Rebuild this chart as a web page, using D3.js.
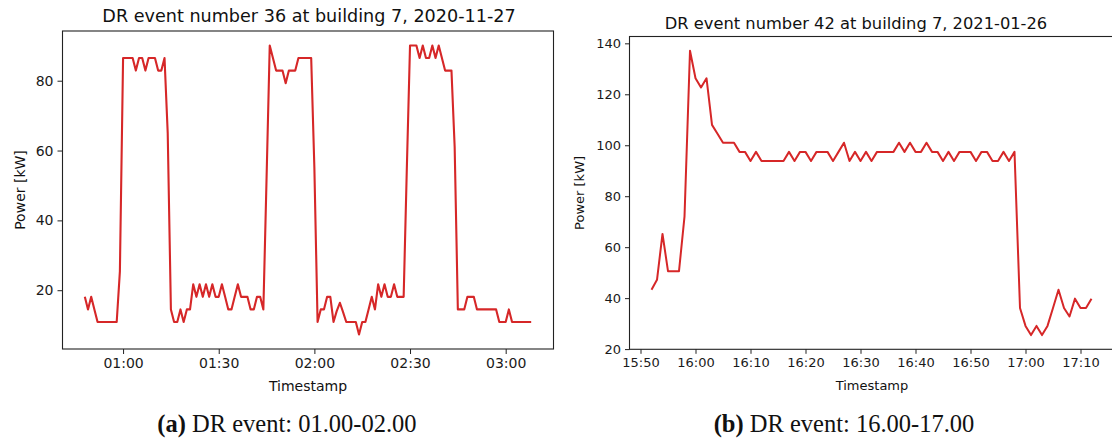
<!DOCTYPE html>
<html><head><meta charset="utf-8">
<script src="https://cdn.jsdelivr.net/npm/d3@7"></script>
<style>body{margin:0;background:#fff}svg{display:block}</style>
</head><body>
<svg id="c" width="1112" height="446"></svg>
<script>
// ---------- DATA ----------
const leftTitle = "DR event number 36 at building 7, 2020-11-27";
const rightTitle = "DR event number 42 at building 7, 2021-01-26";
const leftDate = "2020-11-27";
const rightDate = "2021-01-26";
const leftStartTime = "00:48";   // 1-minute samples
const rightStartTime = "15:52";  // 1-minute samples
const leftPower = [
  18.1,14.5,18.1,14.5,10.9,10.9,10.9,10.9,10.9,10.9,10.9,25.4,
  86.5,86.5,86.5,86.5,82.9,86.5,86.5,82.9,86.5,86.5,86.5,82.9,82.9,86.5,65.0,
  14.5,10.9,10.9,14.5,10.9,14.5,14.5,21.7,18.1,21.7,18.1,21.7,18.1,21.7,18.1,18.1,
  21.7,18.1,14.5,14.5,18.1,21.7,18.1,18.1,18.1,14.5,14.5,18.1,18.1,14.5,52.0,
  90.1,86.5,82.9,82.9,82.9,79.3,82.9,82.9,82.9,86.5,86.5,86.5,86.5,86.5,55.0,
  10.9,14.5,14.5,18.1,18.1,10.9,14.0,16.4,13.7,10.9,10.9,10.9,10.9,7.3,10.9,10.9,
  14.5,18.1,14.5,21.7,18.1,21.7,18.1,18.1,21.7,18.1,18.1,18.1,55.0,
  90.1,90.1,90.1,86.5,90.1,86.5,86.5,90.1,86.5,90.1,86.5,82.9,82.9,82.9,61.0,
  14.5,14.5,14.5,18.1,18.1,18.1,14.5,14.5,14.5,14.5,14.5,14.5,14.5,
  10.9,10.9,10.9,14.5,10.9,10.9,10.9,10.9,10.9,10.9,10.9
];
const rightPower = [
  43.3,47.2,65.2,50.6,50.6,50.6,72.0,137.1,126.3,122.7,126.3,108.0,104.5,
  101.0,101.0,101.0,97.4,97.4,93.8,97.4,93.8,93.8,93.8,93.8,93.8,97.4,93.8,
  97.4,97.4,93.8,97.4,97.4,97.4,93.8,97.4,101.0,93.8,97.4,93.8,97.4,93.8,
  97.4,97.4,97.4,97.4,101.0,97.4,101.0,97.4,97.4,101.0,97.4,97.4,93.8,97.4,
  93.8,97.4,97.4,97.4,93.8,97.4,97.4,93.8,93.8,97.4,93.8,97.4,
  36.1,29.1,25.5,29.1,25.5,29.1,36.1,43.3,36.1,32.8,39.8,36.1,36.1,39.8
];
const leftYTicks = [20, 40, 60, 80];
const rightYTicks = [20, 40, 60, 80, 100, 120, 140];
const leftXTicks = ["01:00", "01:30", "02:00", "02:30", "03:00"];
const rightXTicks = ["15:50", "16:00", "16:10", "16:20", "16:30", "16:40", "16:50", "17:00", "17:10"];
const captions = [["(a)", " DR event: 01.00-02.00"], ["(b)", " DR event: 16.00-17.00"]];

// ---------- DRAW ----------
const svg = d3.select("#c");
const toDate = (day, hm) => new Date(day + "T" + hm + ":00Z");
const series = (day, start, vals) => {
  const t0 = toDate(day, start);
  return vals.map((v, i) => ({ t: new Date(t0.getTime() + i * 60000), v }));
};
const pad = (ext, f) => { const d = (ext[1] - ext[0]) * f; return [ext[0] - d, ext[1] + d]; };

function panel(o) {
  const data = series(o.day, o.start, o.values);
  const te = d3.extent(data, d => d.t.getTime());
  const ve = d3.extent(data, d => d.v);
  const x = d3.scaleUtc().domain(pad(te, 0.05).map(t => new Date(t))).range([o.x0, o.x1]);
  const y = d3.scaleLinear().domain(pad(ve, 0.05)).range([o.y1, o.y0]);
  const g = svg.append("g");
  const font = "DejaVu Sans, sans-serif";

  // line
  g.append("path").datum(data)
    .attr("fill", "none").attr("stroke", "#d62728").attr("stroke-width", o.lw)
    .attr("stroke-linejoin", "round")
    .attr("d", d3.line().x(d => x(d.t)).y(d => y(d.v)));

  // axes
  const xa = g.append("g").attr("transform", `translate(0,${o.y1})`)
    .call(d3.axisBottom(x).tickValues(o.xticks.map(s => toDate(o.day, s)))
      .tickFormat(d3.utcFormat("%H:%M")).tickSize(o.ts).tickPadding(o.tp).tickSizeOuter(0));
  const ya = g.append("g").attr("transform", `translate(${o.x0},0)`)
    .call(d3.axisLeft(y).tickValues(o.yticks).tickFormat(d3.format("d"))
      .tickSize(o.ts).tickPadding(o.tp).tickSizeOuter(0));
  [xa, ya].forEach(a => {
    a.select(".domain").remove();
    a.selectAll("line").attr("stroke", "#222").attr("stroke-width", 1);
    a.selectAll("text").attr("font-family", font).attr("font-size", o.fs).attr("fill", "#1a1a1a");
  });

  // frame
  g.append("rect").attr("x", o.x0).attr("y", o.y0)
    .attr("width", o.x1 - o.x0).attr("height", o.y1 - o.y0)
    .attr("fill", "none").attr("stroke", "#222").attr("stroke-width", 1.1);

  // title
  g.append("text").attr("x", o.titleX).attr("y", o.titleY).attr("text-anchor", "middle")
    .attr("font-family", font).attr("font-size", o.tfs).attr("fill", "#111").text(o.title);
  // x label
  g.append("text").attr("x", o.xlabX).attr("y", o.xlabY).attr("text-anchor", "middle")
    .attr("font-family", font).attr("font-size", o.fs).attr("fill", "#111").text("Timestamp");
  // y label
  g.append("text").attr("transform", `translate(${o.ylabX},${(o.y0 + o.y1) / 2}) rotate(-90)`)
    .attr("text-anchor", "middle")
    .attr("font-family", font).attr("font-size", o.fs).attr("fill", "#111").text("Power [kW]");
  // caption
  const cap = svg.append("text").attr("x", o.capX).attr("y", 432).attr("text-anchor", "middle")
    .attr("font-family", "Liberation Serif, DejaVu Serif, serif").attr("font-size", 24.5).attr("fill", "#111");
  cap.append("tspan").attr("font-weight", "bold").text(o.caption[0]);
  cap.append("tspan").text(o.caption[1]);
}

panel({
  day: leftDate, start: leftStartTime, values: leftPower,
  xticks: leftXTicks, yticks: leftYTicks, title: leftTitle, caption: captions[0],
  x0: 62.5, x1: 553.5, y0: 31, y1: 349, lw: 2.1,
  ts: 5, tp: 4, fs: 14, tfs: 17.6,
  titleX: 309, titleY: 22, xlabX: 308, xlabY: 391, ylabX: 25, capX: 287
});
panel({
  day: rightDate, start: rightStartTime, values: rightPower,
  xticks: rightXTicks, yticks: rightYTicks, title: rightTitle, caption: captions[1],
  x0: 629.5, x1: 1113.5, y0: 36.5, y1: 349.3, lw: 2,
  ts: 4.5, tp: 4, fs: 13, tfs: 16.3,
  titleX: 856, titleY: 28.5, xlabX: 872, xlabY: 390, ylabX: 584, capX: 844
});
</script>
</body></html>
